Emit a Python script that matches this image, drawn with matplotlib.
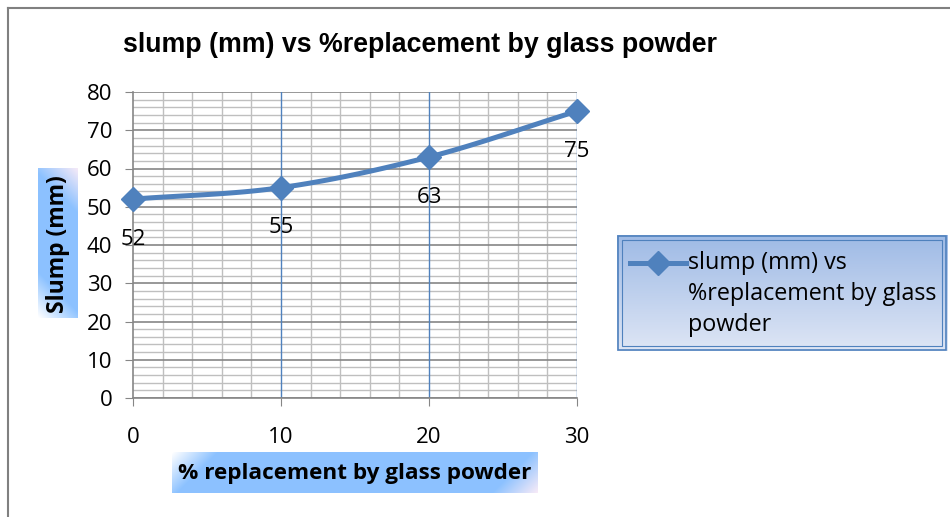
import numpy as np
import matplotlib
matplotlib.use('Agg')
import matplotlib.pyplot as plt
from matplotlib.patches import Rectangle

plt.rcParams['font.family'] = ['Open Sans', 'DejaVu Sans']

replacement = [0, 10, 20, 30]
slump = [52, 55, 63, 75]
x_ticks = [0, 10, 20, 30]
y_ticks = [0, 10, 20, 30, 40, 50, 60, 70, 80]
series_name = 'slump (mm) vs\n%replacement by glass\npowder'
title = 'slump (mm) vs %replacement by glass powder'

blue = '#4F81BD'
W, H = 950, 517


def smooth(xs, ys, n=30):
    # catmull-rom style smoothing like the spreadsheet "smoothed line"
    xs = np.asarray(xs, float)
    ys = np.asarray(ys, float)
    px = np.concatenate([[2 * xs[0] - xs[1]], xs, [2 * xs[-1] - xs[-2]]])
    py = np.concatenate([[2 * ys[0] - ys[1]], ys, [2 * ys[-1] - ys[-2]]])
    ox, oy = [], []
    for i in range(1, len(px) - 2):
        t = np.linspace(0, 1, n)
        for arr, out in ((px, ox), (py, oy)):
            p0, p1, p2, p3 = arr[i - 1], arr[i], arr[i + 1], arr[i + 2]
            out.extend(0.5 * (2 * p1 + (-p0 + p2) * t + (2 * p0 - 5 * p1 + 4 * p2 - p3) * t ** 2
                              + (-p0 + 3 * p1 - 3 * p2 + p3) * t ** 3))
    return ox, oy


def gradient_box(fig, x0, y0, w, h, rotated=False):
    # x0, y0 = top-left corner in pixels
    gax = fig.add_axes([x0 / W, 1 - (y0 + h) / H, w / W, h / H], zorder=0)
    yy, xx = np.mgrid[0:h, 0:w]
    if rotated:
        d = xx + (h - 1 - yy)
    else:
        d = xx + yy
    dmax = d.max()
    white = np.array([1.0, 1.0, 1.0])
    bl = np.array([0.55, 0.76, 1.0])
    pink = np.array([0.97, 0.92, 0.97])
    fade = 45.0
    a = np.clip(d / fade, 0, 1)[:, :, None]
    b = np.clip((d - (dmax - fade)) / fade, 0, 1)[:, :, None]
    img = white + (bl - white) * a
    img = img + (pink - bl) * b
    gax.imshow(img, aspect='auto', interpolation='bilinear')
    gax.axis('off')
    return gax


fig = plt.figure(figsize=(9.5, 5.17), dpi=100)

# outer chart border (left and top)
fig.add_artist(plt.Line2D([8 / W, 8 / W], [0, 1 - 8 / H], color='#808080', lw=1.5))
fig.add_artist(plt.Line2D([8 / W, 1], [1 - 8 / H, 1 - 8 / H], color='#808080', lw=1.5))

ax = fig.add_axes([133 / W, 1 - 398 / H, (577 - 133) / W, (398 - 92) / H], zorder=2)
ax.set_xlim(0, 30)
ax.set_ylim(0, 80)

# grid
for v in np.arange(0, 81, 2):
    if v % 10 == 0:
        ax.axhline(v, color='#868686', lw=1.2, zorder=1)
    else:
        ax.axhline(v, color='#BFBFBF', lw=1.0, zorder=0.5)
for v in np.arange(0, 31, 2):
    if v % 10 == 0 and v > 0:
        ax.axvline(v, color=blue, lw=1.0, zorder=1)
    elif v > 0:
        ax.axvline(v, color='#BFBFBF', lw=1.0, zorder=0.5)

sx, sy = smooth(replacement, slump)
ax.plot(sx, sy, color=blue, lw=3.6, zorder=3, solid_capstyle='round')
ax.plot(replacement, slump, linestyle='none', marker='D', markersize=12.5,
        color=blue, zorder=4, clip_on=False)

for xv, yv in zip(replacement, slump):
    ax.annotate(str(yv), (xv, yv), xytext=(0, -29), textcoords='offset points',
                ha='center', va='center', fontsize=16, color='black', zorder=5)

for s in ['top', 'right']:
    ax.spines[s].set_visible(False)
ax.spines['left'].set_color('#868686')
ax.spines['bottom'].set_color('#868686')
ax.spines['left'].set_linewidth(1.2)
ax.spines['bottom'].set_linewidth(1.2)
ax.set_xticks(x_ticks)
ax.set_yticks(y_ticks)
ax.tick_params(axis='x', length=6, color='#868686', pad=15, labelsize=16)
ax.tick_params(axis='y', length=6, color='#868686', pad=9, labelsize=16)

fig.text(420 / W, 1 - 45 / H, title, ha='center', va='center',
         fontsize=19.3, fontweight='bold', family=['Liberation Sans', 'DejaVu Sans'])

# axis titles on gradient boxes
gradient_box(fig, 38, 168, 40, 150, rotated=True)
fig.text(58 / W, 1 - 244 / H, 'Slump (mm)', rotation=90, ha='center', va='center',
         fontsize=16.5, fontweight='bold', zorder=3)
gradient_box(fig, 172, 452, 366, 41)
fig.text(355 / W, 1 - 473 / H, '% replacement by glass powder', ha='center', va='center',
         fontsize=16.2, fontweight='bold', zorder=3)

# legend box
lax = fig.add_axes([617 / W, 1 - 351 / H, 330 / W, 116 / H], zorder=2)
grad = np.linspace(0, 1, 60)[:, None]
top_c = np.array([0.62, 0.73, 0.90])
bot_c = np.array([0.87, 0.90, 0.96])
limg = top_c + (bot_c - top_c) * grad[:, :, None]
lax.imshow(np.repeat(limg, 2, axis=1), aspect='auto', extent=[0, 1, 0, 1], zorder=0)
lax.set_xlim(0, 1)
lax.set_ylim(0, 1)
lax.axis('off')
lax.add_patch(Rectangle((0.004, 0.01), 0.992, 0.98, fill=False, edgecolor=blue, lw=1.2,
                        transform=lax.transAxes))
lax.add_patch(Rectangle((0.015, 0.04), 0.97, 0.92, fill=False, edgecolor=blue, lw=0.8,
                        transform=lax.transAxes))
lax.plot([0.04, 0.21], [0.76, 0.76], color=blue, lw=3.6)
lax.plot([0.125], [0.76], marker='D', markersize=12.5, color=blue)
lax.text(0.215, 0.49, series_name, ha='left', va='center', fontsize=16.8,
         linespacing=1.4)

fig.savefig('out.png', dpi=100)
